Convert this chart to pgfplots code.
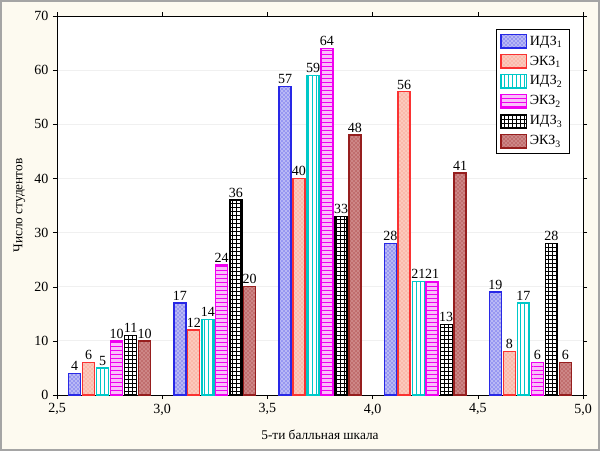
\documentclass[border=0pt]{standalone}
\usepackage{fontspec}
\setmainfont{Liberation Serif}
\usepackage{pgfplots}
\pgfplotsset{compat=1.18}
\usetikzlibrary{patterns}
\definecolor{bgc}{RGB}{253,250,240}
\definecolor{frm}{RGB}{165,165,165}
\definecolor{cB}{RGB}{40,40,230}
\definecolor{fB}{RGB}{185,185,245}
\definecolor{cR}{RGB}{250,50,50}
\definecolor{fR}{RGB}{250,185,170}
\definecolor{cC}{RGB}{0,200,200}
\definecolor{cM}{RGB}{240,0,240}
\definecolor{fM}{RGB}{250,190,250}
\definecolor{cK}{RGB}{0,0,0}
\definecolor{cD}{RGB}{150,30,30}
\definecolor{fD}{RGB}{205,135,135}
\begin{document}
\begin{tikzpicture}
\fill[bgc] (0pt,0pt) rectangle (450pt,338.25pt);
\draw[frm,line width=1.5pt] (0.75pt,0.75pt) rectangle (449.25pt,337.5pt);
\begin{axis}[
  at={(42.75pt,42pt)}, anchor=south west,
  scale only axis, width=394.5pt, height=284.25pt,
  xmin=2.5, xmax=5.0, ymin=0, ymax=70,
  xtick={2.5,3.0,...,5.0}, ytick={0,10,...,70},
  xticklabel style={/pgf/number format/.cd, use comma, fixed, fixed zerofill, precision=1},
  /pgf/number format/assume math mode=true,
  tick label style={font=\fontsize{10.5}{12}\selectfont},
  tick align=outside, tick style={black}, major tick length=3pt,
  ymajorgrids, grid style={gray!12, line width=0.6pt},
  axis background/.style={fill=white},
  xlabel={5-ти балльная шкала}, ylabel={Число студентов},
  label style={font=\fontsize{10}{12}\selectfont},
  xlabel style={yshift=-4pt},
  ybar, bar shift=0pt, bar width=0.057,
  nodes near coords,
  every node near coord/.append style={font=\fontsize{10.5}{12}\selectfont, black, inner sep=1.5pt},
  legend style={at={(0.974,0.966)}, anchor=north east, draw=black, fill=white, font=\fontsize{10.5}{12}\selectfont, row sep=2.5pt, inner sep=3pt},
  legend cell align=left,
  legend image code/.code={\draw[#1] (0pt,-5pt) rectangle (19pt,5pt);},
]
\addplot[draw=cB, fill=fB, postaction={pattern=crosshatch dots, pattern color=cB}, line width=1pt]
  coordinates {(2.584,4) (3.084,17) (3.584,57) (4.084,28) (4.584,19)};
\addplot[draw=cR, fill=fR, postaction={pattern=crosshatch dots, pattern color=white}, line width=1pt]
  coordinates {(2.650,6) (3.150,12) (3.650,40) (4.150,56) (4.650,8)};
\addplot[draw=cC, fill=white, postaction={pattern=vertical lines, pattern color=cC}, line width=1pt]
  coordinates {(2.717,5) (3.217,14) (3.717,59) (4.217,21) (4.717,17)};
\addplot[draw=cM, fill=fM, postaction={pattern=horizontal lines, pattern color=cM}, line width=1pt]
  coordinates {(2.783,10) (3.283,24) (3.783,64) (4.283,21) (4.783,6)};
\addplot[draw=cK, fill=white, postaction={pattern=grid, pattern color=black}, line width=1pt]
  coordinates {(2.850,11) (3.350,36) (3.850,33) (4.350,13) (4.850,28)};
\addplot[draw=cD, fill=fD, postaction={pattern=crosshatch dots, pattern color=cD}, line width=1pt]
  coordinates {(2.916,10) (3.416,20) (3.916,48) (4.416,41) (4.916,6)};
\legend{ИДЗ\textsubscript{1},ЭКЗ\textsubscript{1},ИДЗ\textsubscript{2},ЭКЗ\textsubscript{2},ИДЗ\textsubscript{3},ЭКЗ\textsubscript{3}}
\end{axis}
\end{tikzpicture}
\end{document}
